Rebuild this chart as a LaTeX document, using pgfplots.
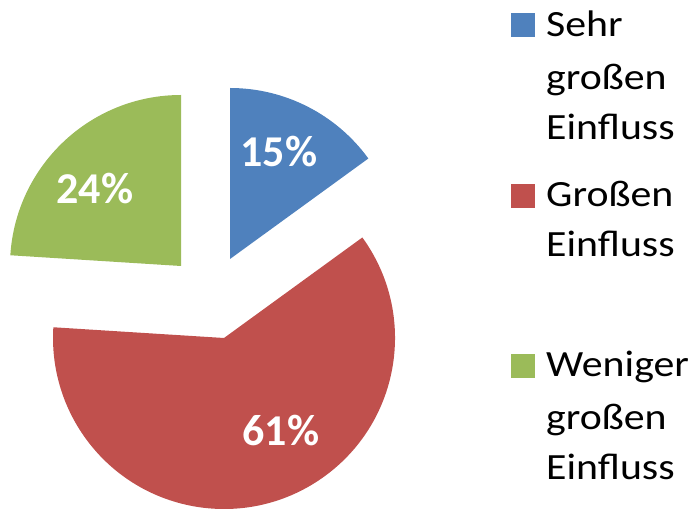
\documentclass[border=0pt]{standalone}
\usepackage{pgfplots}
\pgfplotsset{compat=1.18}
\usepackage{pgfplotstable}
\usepackage{fontspec}
\setmainfont{Carlito}
\newfontfamily\lgfont[FakeStretch=1.13]{Carlito}
\definecolor{cblue}{HTML}{4F81BD}
\definecolor{cred}{HTML}{C0504D}
\definecolor{cgreen}{HTML}{9BBB59}

\pgfplotstableread{
pct cx cy
15 230 249
61 224 170
24 181 242
}\slices

\pgfplotstablegetelem{0}{pct}\of\slices \let\pA\pgfplotsretval
\pgfplotstablegetelem{1}{pct}\of\slices \let\pB\pgfplotsretval
\pgfplotstablegetelem{2}{pct}\of\slices \let\pC\pgfplotsretval
\pgfplotstablegetelem{0}{cx}\of\slices \let\xA\pgfplotsretval
\pgfplotstablegetelem{1}{cx}\of\slices \let\xB\pgfplotsretval
\pgfplotstablegetelem{2}{cx}\of\slices \let\xC\pgfplotsretval
\pgfplotstablegetelem{0}{cy}\of\slices \let\yA\pgfplotsretval
\pgfplotstablegetelem{1}{cy}\of\slices \let\yB\pgfplotsretval
\pgfplotstablegetelem{2}{cy}\of\slices \let\yC\pgfplotsretval
\pgfmathsetmacro\aZero{90}
\pgfmathsetmacro\aOne{\aZero-3.6*\pA}
\pgfmathsetmacro\aTwo{\aOne-3.6*\pB}
\pgfmathsetmacro\aThree{\aTwo-3.6*\pC}
\def\R{171pt}

\begin{document}
\begin{tikzpicture}
\useasboundingbox (0,0) rectangle (695pt,508pt);
\begin{axis}[x=1pt,y=1pt,hide axis,xmin=0,xmax=695,ymin=0,ymax=508,
  clip=false,anchor=origin,at={(0,0)},scale only axis]
\addplot[draw=none] coordinates {(0,0) (695,508)};
\fill[cblue] (axis cs:\xA,\yA) -- ++(\aZero:\R) arc[start angle=\aZero, end angle=\aOne, radius=\R] -- cycle;
\fill[cred] (axis cs:\xB,\yB) -- ++(\aOne:\R) arc[start angle=\aOne, end angle=\aTwo, radius=\R] -- cycle;
\fill[cgreen] (axis cs:\xC,\yC) -- ++(\aTwo:\R) arc[start angle=\aTwo, end angle=\aThree, radius=\R] -- cycle;
\tikzset{pl/.style={text=white,anchor=base,inner sep=0pt,font=\fontsize{44}{50}\selectfont\bfseries}}
\node[pl] at (axis cs:279,341) {15\%};
\node[pl] at (axis cs:281,62) {61\%};
\node[pl] at (axis cs:95,304) {24\%};
\tikzset{lg/.style={anchor=base west,inner sep=0pt,font=\lgfont\fontsize{37}{44}\selectfont}}
\fill[cblue] (axis cs:511,471) rectangle (axis cs:535,495);
\fill[cred] (axis cs:511,300) rectangle (axis cs:535,324);
\fill[cgreen] (axis cs:511,130) rectangle (axis cs:535,154);
\node[lg] at (axis cs:546,471) {Sehr};
\node[lg] at (axis cs:546,418) {großen};
\node[lg] at (axis cs:546,368) {Einfluss};
\node[lg] at (axis cs:546,301) {Großen};
\node[lg] at (axis cs:546,251) {Einfluss};
\node[lg] at (axis cs:546,131) {Weniger};
\node[lg] at (axis cs:546,78) {großen};
\node[lg] at (axis cs:546,28) {Einfluss};
\end{axis}
\end{tikzpicture}
\end{document}
